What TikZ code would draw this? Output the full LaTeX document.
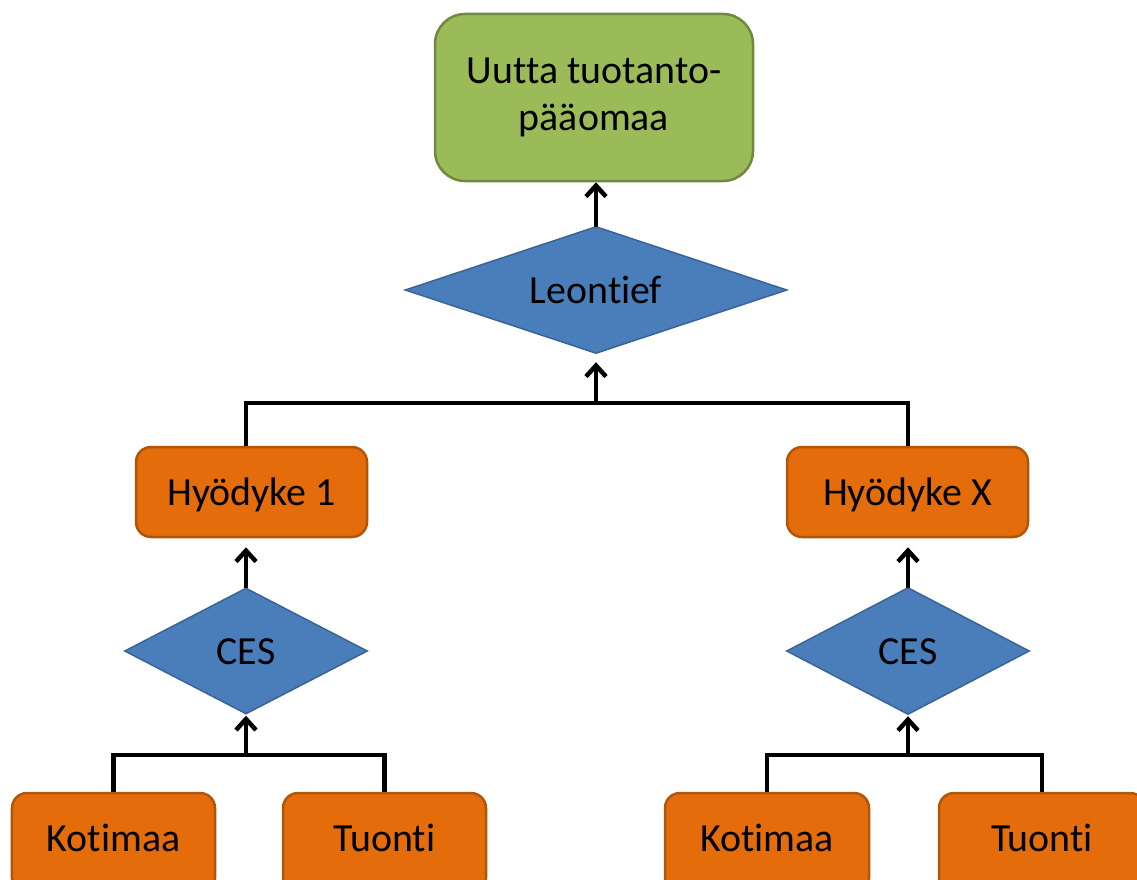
\documentclass[tikz,border=0pt]{standalone}
\usepackage{fontspec}
\setmainfont{Carlito}[Ligatures={NoCommon,NoContextual,NoRequired}]
\usetikzlibrary{arrows.meta}
\definecolor{gfill}{HTML}{9BBB59}
\definecolor{gline}{HTML}{71893F}
\definecolor{ofill}{HTML}{E46C0A}
\definecolor{oline}{HTML}{B0560A}
\definecolor{bfill}{HTML}{4A7EBB}
\definecolor{bline}{HTML}{3A6496}
\tikzset{
  txt/.style={font=\fontsize{40}{48}\selectfont, text=black, align=center, inner sep=0pt},
  oneline/.style={text height=26bp, text depth=0bp},
  greenbox/.style={txt, draw=gline, fill=gfill, line width=2.5bp, rounded corners=30bp},
  orangebox/.style={txt, oneline, draw=oline, fill=ofill, line width=2.5bp, rounded corners=15bp, minimum height=90bp},
  diabox/.style={txt, rectangle, draw=none},
  diafill/.style={draw=bline, fill=bfill, line width=1.5bp, line join=miter},
  conn/.style={draw=black, line width=4.5bp},
  arr/.style={conn, -{Straight Barb[length=11bp,width=20bp]}},
}
\begin{document}
\begin{tikzpicture}[x=1bp,y=-1bp]
\useasboundingbox (0,0) rectangle (1137,880);
% diamond frames (invisible rectangles, diamonds drawn from their anchors)
\node[diabox, minimum width=381bp, minimum height=126bp] (leo) at (596,290) {};
\node[diabox, minimum width=242bp, minimum height=125bp] (ces1) at (246,651) {};
\node[diabox, minimum width=242bp, minimum height=126bp] (cesx) at (908,651) {};
\foreach \d in {leo,ces1,cesx}{
  \draw[diafill] (\d.north) -- (\d.east) -- (\d.south) -- (\d.west) -- cycle;
}
\node[txt, oneline] (leot) at (leo.center) {Leont\kern0pt ief};
\node[txt, oneline] (ces1t) at (ces1.center) {CES};
\node[txt, oneline] (cesxt) at (cesx.center) {CES};
% boxes
\node[greenbox, minimum width=318bp, minimum height=167bp] (top) at (594,97.5) {Uut\kern0pt ta tuotanto-\\pääomaa};
\node[orangebox, minimum width=231bp] (h1) at (251.5,492) {Hyödyke 1};
\node[orangebox, minimum width=241bp] (hx) at (907.5,492) {Hyödyke X};
\node[orangebox, minimum width=203bp, minimum height=100bp, text depth=10bp] (k1) at (113.5,843) {Kotimaa};
\node[orangebox, minimum width=203bp, minimum height=100bp, text depth=10bp] (t1) at (384.5,843) {Tuont\kern0pt i};
\node[orangebox, minimum width=204bp, minimum height=100bp, text depth=10bp] (kx) at (767,843) {Kotimaa};
\node[orangebox, minimum width=206bp, minimum height=100bp, text depth=10bp] (tx) at (1042,843) {Tuont\kern0pt i};
% junctions
\coordinate (j0) at (596,403);
\coordinate (j1) at (246,755);
\coordinate (jx) at (908,755);
% connectors
\draw[arr] (leo.north) -- (leo.north |- top.south);
\draw[conn] (h1.north -| j1) |- (j0) -| (hx.north -| jx);
\draw[arr, shorten >=9bp] (j0) -- (leo.south);
\draw[arr, shorten >=9bp] (ces1.north) -- (ces1.north |- h1.south);
\draw[arr, shorten >=9bp] (cesx.north) -- (cesx.north |- hx.south);
\draw[conn] (k1.north) |- (j1) -| (t1.north);
\draw[arr, shorten >=2bp] (j1) -- (ces1.south);
\draw[conn] (kx.north) |- (jx) -| (tx.north);
\draw[arr, shorten >=2bp] (jx) -- (cesx.south);
\end{tikzpicture}
\end{document}
